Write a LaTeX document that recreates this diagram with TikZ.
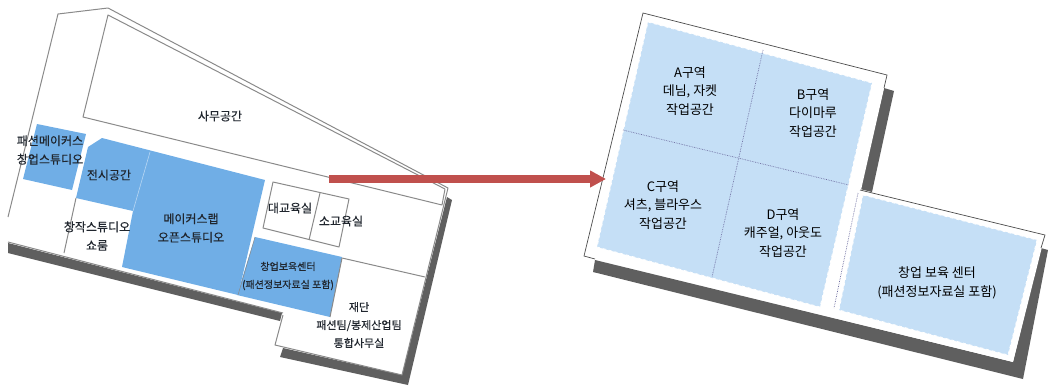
\documentclass[tikz,border=0pt]{standalone}
\usepackage{fontspec}
\setmainfont{Noto Sans CJK KR}
\newfontfamily\leftfont[FakeBold=0.5]{Noto Sans CJK KR}
\usetikzlibrary{arrows.meta}
\definecolor{bluedark}{HTML}{70AEE6}
\definecolor{bluelight}{HTML}{C5DFF6}
\definecolor{shadowgray}{HTML}{5F5F5F}
\definecolor{linegray}{HTML}{8A8A8A}
\definecolor{arrowred}{HTML}{C0504D}
\definecolor{textdark}{HTML}{20262E}
\tikzset{every picture/.style={line width=0.75pt}}
\tikzset{
	wall/.style={draw=linegray,line width=1pt,line join=round},
	shadowfill/.style={fill=shadowgray},
	lefttext/.style={font=\leftfont\fontsize{12}{18.5}\selectfont,text=textdark,align=center,inner sep=0pt},
	righttext/.style={font=\fontsize{13}{18.5}\selectfont,text=black,align=center,inner sep=0pt},
	zoneline/.style={draw=linegray!80!blue,densely dotted,line width=0.7pt},
	zonefill/.style={fill=bluelight,draw=white,dashed,line width=0.8pt}
}
\begin{document}
\begin{tikzpicture}[x=1pt,y=-1pt]
	\useasboundingbox (0,0) rectangle (1048,386);
	%Bong trai
	\fill[shadowfill] (8,243)--(282,313)--(280,321)--(8,253)--cycle;
	\fill[shadowfill] (447,197)--(452,200)--(408,385)--(280,357)--(283,348)--(402,375)--cycle;
	%Tuong ngoai trai
	\draw[wall] (8,217)--(58,14)--(108,8)--(448,188)--(402,375)--(275,345)--(283,315);
	\draw[wall] (8,242)--(283,313);
	%Phong tren
	\draw[wall] (445,189)--(108,15)--(83,117)--(442,205)--(445,189);
	%Mau xanh trai
	\fill[bluedark] (37,124)--(86,134)--(72,190)--(23,179)--cycle;
	\fill[bluedark] (102,138)--(265,180)--(238,295)--(122,267)--(133,211)--(76,198)--(88,147)--cycle;
	\fill[bluedark] (255,237)--(342,257)--(330,317)--(237,295)--cycle;
	\draw[white,line width=0.6pt,opacity=0.5] (150,152)--(133,211);
	\draw[linegray,line width=0.5pt] (255,237)--(238,295);
	%Vach ngan
	\draw[wall] (76,198)--(64,253);
	\draw[wall] (273,182)--(349,199)--(339,247)--(263,228)--cycle;
	\draw[wall] (320,193)--(309,240);
	\draw[wall] (342,258)--(425,277);
	\draw[wall] (342,258)--(330,317);
	%Chu trai
	\node[lefttext] (office) at (220,116) {사무공간};
	\node[lefttext] (fashionstudio) at (50,150) {패션메이커스\\창업스튜디오};
	\node[lefttext] (exhibit) at (109,175) {전시공간};
	\node[lefttext] (showroom) at (97,236) {창작스튜디오\\쇼룸};
	\node[lefttext] (makerlab) at (191,228) {메이커스랩\\오픈스튜디오};
	\node[lefttext] (bigroom) at (290,208) {대교육실};
	\node[lefttext] (smallroom) at (341,221) {소교육실};
	\node[lefttext,font=\leftfont\fontsize{10}{18}\selectfont] (incubator) at (288,276) {창업보육센터\\(패션정보자료실 포함)};
	\node[lefttext,font=\leftfont\fontsize{11}{18}\selectfont] (foundation) at (359,325) {재단\\패션팀/봉제산업팀\\통합사무실};
	%Bong phai
	\fill[shadowfill] (884,88)--(894,91)--(872,192)--(860,189)--cycle;
	\fill[shadowfill] (1041,248)--(1048,250)--(1023,379)--(593,272)--(595,260)--(1013,362)--cycle;
	%Tuong phai
	\fill[white] (643,13)--(887,75)--(861,190)--(1045,235)--(1013,362)--(584,256)--cycle;
	\draw[draw=black!70,line width=0.7pt] (595,259)--(584,256)--(643,13)--(887,75)--(884,88);
	\draw[draw=black!70,line width=0.7pt] (860,190)--(1045,235)--(1041,248);
	%Mau xanh phai
	\path[zonefill] (648,22)--(872,83)--(820,307)--(597,247)--cycle;
	\path[zonefill] (863,195)--(1037,240)--(1008,355)--(839,310)--cycle;
	%Duong cham
	\draw[zoneline] (763,50)--(712,277);
	\draw[zoneline] (623,130)--(849,185);
	\draw[zoneline] (858,193)--(834,308);
	%Chu phai
	\node[righttext] (zonea) at (690,91) {A구역\\데님, 자켓\\작업공간};
	\node[righttext] (zoneb) at (813,113) {B구역\\다이마루\\작업공간};
	\node[righttext] (zonec) at (663,205) {C구역\\셔츠, 블라우스\\작업공간};
	\node[righttext] (zoned) at (783,233) {D구역\\캐주얼, 아웃도\\작업공간};
	\node[righttext] (centerroom) at (937,283) {창업 보육 센터\\(패션정보자료실 포함)};
	%Mui ten
	\coordinate (arrowstart) at (329,179);
	\coordinate (arrowend) at (606,179);
	\draw[-{Triangle[length=16pt,width=16pt]},arrowred,line width=8pt] (arrowstart)--(arrowend);
\end{tikzpicture}
\end{document}
